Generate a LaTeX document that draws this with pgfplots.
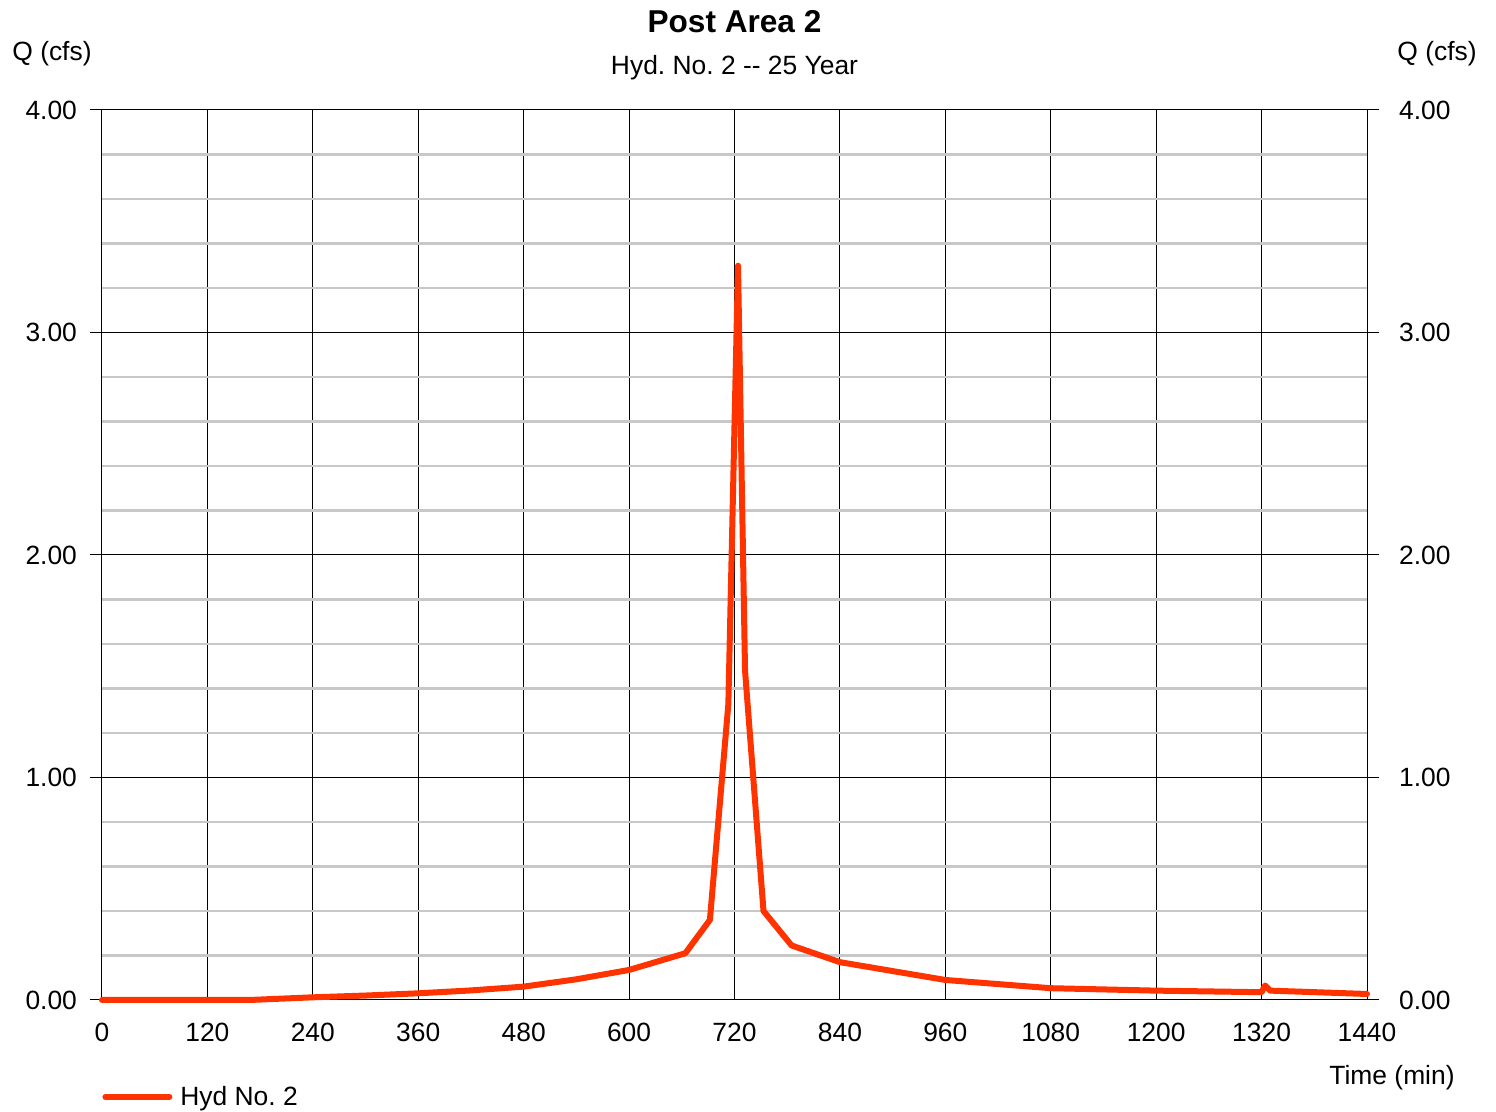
\documentclass[border=0pt]{standalone}
\usepackage{pgfplots}
\pgfplotsset{compat=1.18}
\usepackage{fontspec}
\setmainfont{Liberation Sans}
\definecolor{hyd}{RGB}{255,51,0}
\definecolor{mgrid}{RGB}{200,200,200}
\frenchspacing
\begin{document}
\frenchspacing
\begin{tikzpicture}
\useasboundingbox (-51pt,-56pt) rectangle (697pt,500pt);
\begin{axis}[
    name=ax,
    at={(0,0)}, anchor=south west,
    scale only axis,
    width=632.5pt, height=445pt,
    xmin=0, xmax=1440, ymin=0, ymax=4,
    xtick={0,120,...,1440},
    ytick={0,1,2,3,4},
    minor y tick num=4,
    grid=both,
    major grid style={black, line width=0.5pt},
    minor grid style={mgrid, line width=1.1pt},
    axis line style={black, line width=0.5pt},
    tick align=outside,
    major tick length=6pt,
    minor tick length=0pt,
    xtick style={draw=none},
    ytick style={black, line width=0.5pt},
    font=\fontsize{13.2}{15}\selectfont,
    /pgf/number format/assume math mode=true,
    yticklabel style={xshift=-3pt, /pgf/number format/.cd, fixed, fixed zerofill, precision=2},
    xticklabel style={yshift=-2pt, /pgf/number format/.cd, fixed, 1000 sep={}},
    clip=false,
    legend style={at={(axis description cs:0,-0.109)}, anchor=west, draw=none,
        inner sep=0pt, font=\fontsize{13.2}{15}\selectfont},
    legend cell align=left,
    legend image code/.code={\draw[line width=3pt, line cap=round] (0pt,0pt) -- (32pt,0pt);},
]
\addplot[hyd, line width=3pt, line join=round, line cap=round] coordinates {
(0,0) (120,0) (168,0) (240,0.012) (300,0.02) (360,0.03) (420,0.043)
(480,0.06) (540,0.093) (600,0.135) (664,0.21) (692,0.36) (713,1.33)
(724,3.30) (732,1.48) (753,0.40) (785,0.245) (840,0.17) (900,0.13)
(960,0.09) (1080,0.053) (1200,0.042) (1320,0.035) (1324,0.065)
(1330,0.042) (1440,0.027)
};
\addlegendentry{\hspace{2pt}Hyd No. 2}
\node[font=\fontsize{15.8}{18}\selectfont\bfseries, anchor=base] at ([yshift=38.75pt]rel axis cs:0.5,1) {Post Area 2};
\node[font=\fontsize{13.2}{15}\selectfont, anchor=base] at ([yshift=17.5pt]rel axis cs:0.5,1) {Hyd. No. 2 -{}- 25 Year};
\node[anchor=base west, inner sep=0pt] at ([xshift=-45pt, yshift=24.5pt]rel axis cs:0,1) {Q (cfs)};
\node[anchor=base west, inner sep=0pt] at ([xshift=15pt, yshift=24.5pt]rel axis cs:1,1) {Q (cfs)};
\node[anchor=base east, inner sep=0pt] at ([xshift=44pt, yshift=-42.5pt]rel axis cs:1,0) {Time (min)};
\end{axis}
\begin{axis}[
    at={(0,0)}, anchor=south west,
    scale only axis,
    width=632.5pt, height=445pt,
    xmin=0, xmax=1440, ymin=0, ymax=4,
    axis y line*=right, axis x line=none,
    ytick={0,1,2,3,4},
    tick align=outside,
    major tick length=6pt,
    ytick style={black, line width=0.5pt},
    axis line style={draw=none},
    font=\fontsize{13.2}{15}\selectfont,
    /pgf/number format/assume math mode=true,
    yticklabel style={xshift=6.5pt, /pgf/number format/.cd, fixed, fixed zerofill, precision=2},
]
\end{axis}
\end{tikzpicture}
\end{document}
